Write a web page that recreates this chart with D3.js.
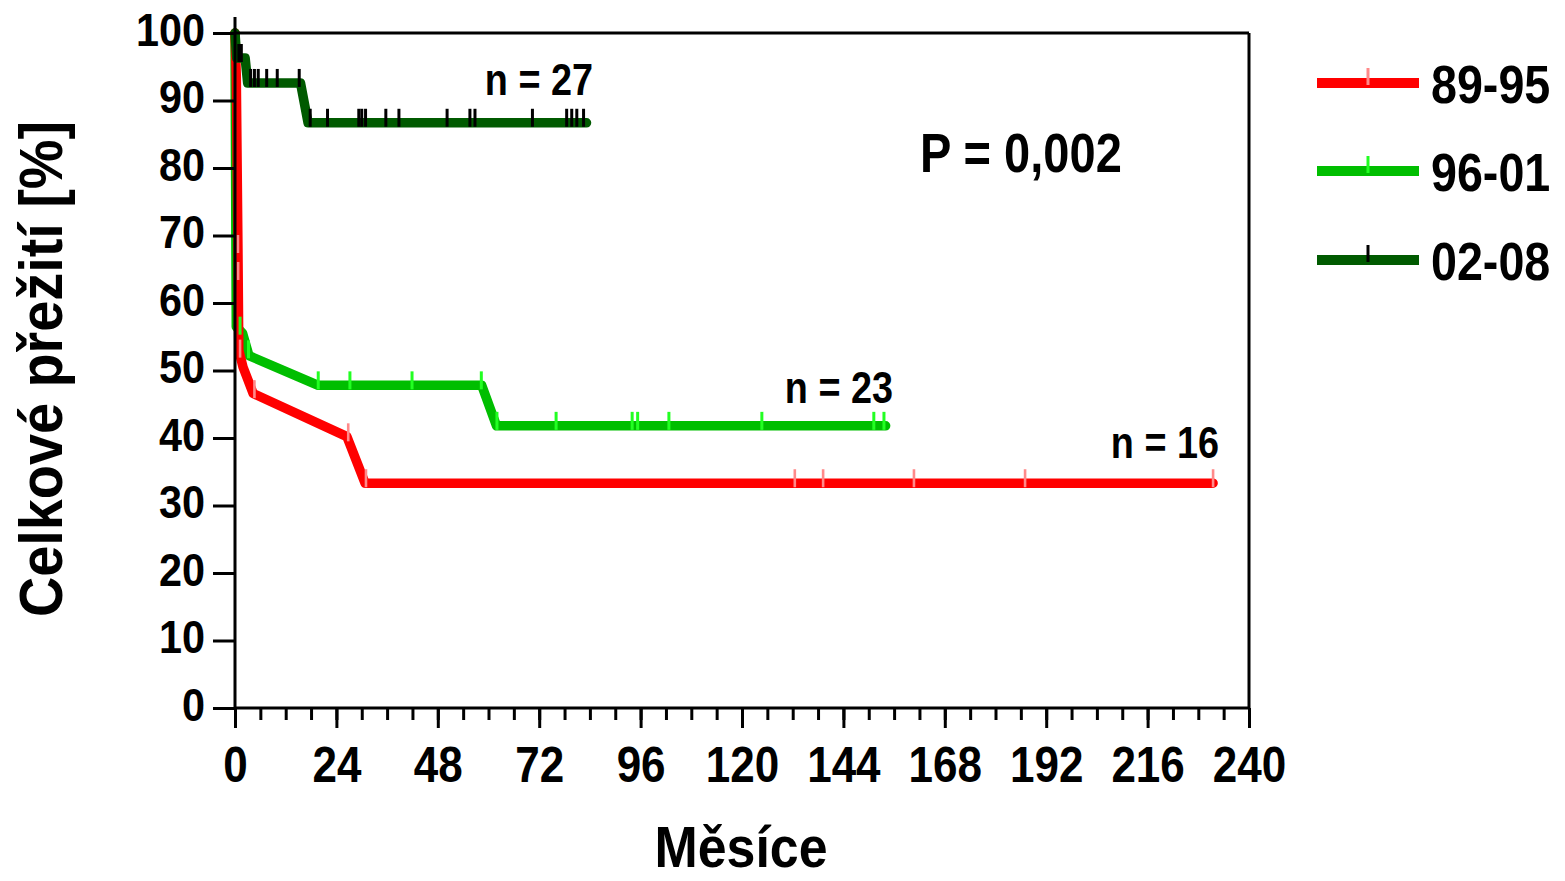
<!DOCTYPE html>
<html><head><meta charset="utf-8">
<script src="https://cdn.jsdelivr.net/npm/d3@7"></script>
<style>
body{margin:0;background:#fff}
text{font-family:"Liberation Sans",Arial,Helvetica,sans-serif;font-weight:bold;fill:#000}
</style>
</head><body>
<svg id="chart" width="1565" height="881"></svg>
<script>
// ---- data ----
const seriesNames = ["89-95", "96-01", "02-08"];
const seriesN = ["n = 16", "n = 23", "n = 27"];

const redTime = [0, 0.3, 0.7, 0.9, 1.9, 4.3, 26.5, 30.8, 231.5];
const redSurv = [100, 93.8, 68, 53, 50.5, 46.6, 40.2, 33.3, 33.3];
const redCensTime = [0.7, 0.75, 1.2, 4.6, 26.8, 31, 132.5, 139.2, 160.7, 187, 231.5];
const redCensSurv = [68, 64, 52.5, 46.5, 40.1, 33.3, 33.3, 33.3, 33.3, 33.3, 33.3];

const greenTime = [0, 0.3, 1.8, 3.3, 19.7, 58.4, 61.9, 154];
const greenSurv = [100, 56.5, 55.5, 52.2, 47.8, 47.8, 41.8, 41.8];
const greenCensTime = [1.2, 3.2, 19.7, 27.2, 41.9, 58.3, 62, 76, 94, 95.3, 102.7, 124.7, 151.2, 153.6];
const greenCensSurv = [55.9, 52.4, 47.8, 47.8, 47.8, 47.8, 41.8, 41.8, 41.8, 41.8, 41.8, 41.8, 41.8, 41.8];

const dgTime = [0, 0.4, 2.4, 3.0, 15.5, 17.3, 83.2];
const dgSurv = [100, 96.3, 96.3, 92.6, 92.6, 86.7, 86.7];
const dgCensTime = [0.9, 1.5, 3.7, 4.6, 5.5, 7.5, 10, 15.2, 17.8, 21.9, 29.3, 30, 30.9, 35.7, 38.8, 50.2, 55.6, 56.8, 70.4, 78.5, 79.7, 80.9, 82.5];
const dgCensSurv = [96.3, 96.3, 92.6, 92.6, 92.6, 92.6, 92.6, 92.6, 86.7, 86.7, 86.7, 86.7, 86.7, 86.7, 86.7, 86.7, 86.7, 86.7, 86.7, 86.7, 86.7, 86.7, 86.7];

const xTicks = [0, 24, 48, 72, 96, 120, 144, 168, 192, 216, 240];
const xMinorTicks = d3.range(0, 241, 6);
const yTicks = [0, 10, 20, 30, 40, 50, 60, 70, 80, 90, 100];
const xTitle = "Měsíce";
const yTitle = "Celkové přežití [%]";
const pText = "P = 0,002";

// ---- drawing ----
const svg = d3.select("#chart");
const x = d3.scaleLinear().domain([0, 240]).range([235, 1249]);
const y = d3.scaleLinear().domain([0, 100]).range([708, 33]);

const series = [
  {name: seriesNames[1], t: greenTime, s: greenSurv, ct: greenCensTime, cs: greenCensSurv, color: "#00be00", tick: "#22ff22", tw: 3},
  {name: seriesNames[0], t: redTime, s: redSurv, ct: redCensTime, cs: redCensSurv, color: "#ff0000", tick: "#ff8a8a", tw: 2.6},
  {name: seriesNames[2], t: dgTime, s: dgSurv, ct: dgCensTime, cs: dgCensSurv, color: "#005a00", tick: "#000000", tw: 3}
];

const line = d3.line().x(d => x(d[0])).y(d => y(d[1]));

series.forEach(sr => {
  const pts = sr.t.map((t, i) => [t, sr.s[i]]);
  svg.append("path").attr("d", line(pts))
    .attr("fill", "none").attr("stroke", sr.color)
    .attr("stroke-width", 9.5).attr("stroke-linejoin", "round").attr("stroke-linecap", "round");
});
series.forEach(sr => {
  const cp = sr.ct.map((t, i) => [t, sr.cs[i]]);
  svg.append("g").selectAll("line").data(cp).join("line")
    .attr("x1", d => x(d[0])).attr("x2", d => x(d[0]))
    .attr("y1", d => y(d[1]) - 14).attr("y2", d => y(d[1]) + 4)
    .attr("stroke", sr.tick).attr("stroke-width", sr.tw);
});

// axes
const yAxis = d3.axisLeft(y).tickValues(yTicks).tickSize(22).tickSizeOuter(0);
const gy = svg.append("g").attr("transform", `translate(${x(0)},0)`).call(yAxis);
gy.select(".domain").remove();
gy.selectAll(".tick line").attr("stroke", "#000").attr("stroke-width", 3);
gy.selectAll(".tick text")
  .attr("x", -30 / 0.88).attr("dy", null).attr("y", 12)
  .attr("transform", "scale(0.88,1)")
  .style("font-size", "47px").style("font-family", "'Liberation Sans',Arial,sans-serif").style("font-weight", "bold").attr("fill", "#000");

const xMinor = d3.axisBottom(x).tickValues(xMinorTicks).tickSize(12).tickFormat("").tickSizeOuter(0);
const gxm = svg.append("g").attr("transform", `translate(0,${y(0)})`).call(xMinor);
gxm.select(".domain").remove();
gxm.selectAll(".tick line").attr("stroke", "#000").attr("stroke-width", 3);

const xAxis = d3.axisBottom(x).tickValues(xTicks).tickSize(20).tickSizeOuter(0);
const gx = svg.append("g").attr("transform", `translate(0,${y(0)})`).call(xAxis);
gx.select(".domain").remove();
gx.selectAll(".tick line").attr("stroke", "#000").attr("stroke-width", 3);
gx.selectAll(".tick text")
  .attr("y", 74).attr("dy", null)
  .attr("transform", "scale(0.88,1)")
  .style("font-size", "50px").style("font-family", "'Liberation Sans',Arial,sans-serif").style("font-weight", "bold").attr("fill", "#000");

// frame and axis lines
const frame = svg.append("g").attr("stroke", "#000").attr("stroke-width", 3).attr("fill", "none");
frame.append("line").attr("x1", x(0)).attr("x2", x(240)).attr("y1", y(0)).attr("y2", y(0));
frame.append("line").attr("x1", x(0)).attr("x2", x(240)).attr("y1", y(100)).attr("y2", y(100));
frame.append("line").attr("x1", x(240)).attr("x2", x(240)).attr("y1", y(100)).attr("y2", y(0));
frame.append("line").attr("x1", x(0)).attr("x2", x(0)).attr("y1", y(100) - 16).attr("y2", y(0));

function label(txt, px, py, size, anchor, sx) {
  svg.append("text").attr("transform", `translate(${px},${py}) scale(${sx},1)`)
    .attr("text-anchor", anchor).style("font-size", size + "px").text(txt);
}

// titles
label(xTitle, 741, 867, 57, "middle", 0.91);
svg.append("text").attr("transform", `translate(62,369) rotate(-90) scale(0.9,1)`)
  .attr("text-anchor", "middle").style("font-size", "62px").text(yTitle);

// P value
label(pText, 920, 172, 56, "start", 0.84);

// n labels
label(seriesN[2], 593, 95, 45, "end", 0.84);
label(seriesN[1], 893, 403, 45, "end", 0.84);
label(seriesN[0], 1219, 458, 45, "end", 0.84);

// legend
const legend = [
  {name: seriesNames[0], color: "#ff0000", tick: "#ff8a8a", cy: 83},
  {name: seriesNames[1], color: "#00be00", tick: "#22ff22", cy: 171},
  {name: seriesNames[2], color: "#005a00", tick: "#000000", cy: 260}
];
legend.forEach(l => {
  svg.append("line").attr("x1", 1317).attr("x2", 1419).attr("y1", l.cy).attr("y2", l.cy)
    .attr("stroke", l.color).attr("stroke-width", 10);
  svg.append("line").attr("x1", 1368).attr("x2", 1368).attr("y1", l.cy - 15).attr("y2", l.cy + 2)
    .attr("stroke", l.tick).attr("stroke-width", 3);
  label(l.name, 1431, l.cy + 20, 53, "start", 0.88);
});
</script>
</body></html>
